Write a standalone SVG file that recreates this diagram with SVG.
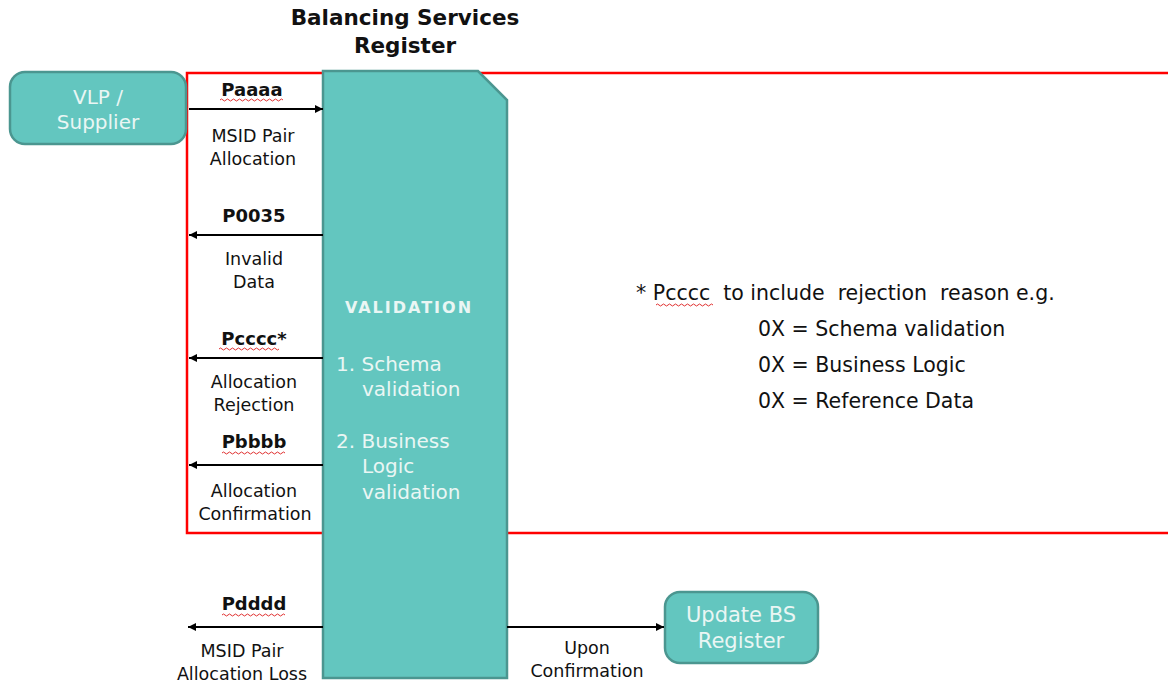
<svg xmlns="http://www.w3.org/2000/svg" width="1168" height="683" viewBox="0 0 1168 683">
<defs>
<marker id="ah" viewBox="0 0 10 10" refX="10" refY="5" markerWidth="10" markerHeight="8" markerUnits="userSpaceOnUse" orient="auto">
<path d="M0,0 L10,5 L0,10 z" fill="#000"/>
</marker>
</defs>
<style>
.t{font-family:"DejaVu Sans",Verdana,sans-serif;fill:#111;}
.lbl{font-size:17.5px;text-anchor:middle;}
.code{font-size:18px;font-weight:bold;text-anchor:middle;}
.w{fill:#EAF6F4;font-family:"DejaVu Sans",Verdana,sans-serif;}
.node{fill:#63C6BF;stroke:#4B9690;stroke-width:2.5;}
.conn{stroke:#000;stroke-width:2;fill:none;marker-end:url(#ah);}
.sq{stroke:#E03030;stroke-width:1;fill:none;}
</style>
<rect width="1168" height="683" fill="#fff"/>
<g id="region">
<rect x="187" y="73" width="990" height="460" fill="none" stroke="#FF0000" stroke-width="2.5"/>
</g>
<g id="bsr">
<path class="node" d="M323,71 L478,71 L507,100 L507,678 L323,678 Z"/>
<text class="t" x="405" y="25" font-size="21.5" font-weight="bold" text-anchor="middle">Balancing Services</text>
<text class="t" x="405" y="53" font-size="21.5" font-weight="bold" text-anchor="middle">Register</text>
<text class="w" x="409" y="313" font-size="16" font-weight="bold" letter-spacing="2" text-anchor="middle">VALIDATION</text>
<text class="w" x="336" y="371" font-size="20">1. Schema</text>
<text class="w" x="362" y="396" font-size="20">validation</text>
<text class="w" x="336" y="448" font-size="20">2. Business</text>
<text class="w" x="362" y="473" font-size="20">Logic</text>
<text class="w" x="362" y="499" font-size="20">validation</text>
</g>
<g id="vlp">
<rect class="node" x="10" y="72" width="176" height="72" rx="15"/>
<text class="w" x="98" y="104" font-size="20" text-anchor="middle">VLP /</text>
<text class="w" x="98" y="129" font-size="20" text-anchor="middle">Supplier</text>
</g>
<g id="update">
<rect class="node" x="665" y="592" width="153" height="71" rx="15"/>
<text class="w" x="741" y="622" font-size="21" text-anchor="middle">Update BS</text>
<text class="w" x="741" y="648" font-size="21" text-anchor="middle">Register</text>
</g>
<g id="connectors">
<line class="conn" x1="189" y1="109" x2="323" y2="109"/>
<line class="conn" x1="323" y1="235" x2="189" y2="235"/>
<line class="conn" x1="323" y1="358" x2="189" y2="358"/>
<line class="conn" x1="323" y1="465" x2="189" y2="465"/>
<line class="conn" x1="323" y1="627" x2="188" y2="627"/>
<line class="conn" x1="507" y1="627" x2="664" y2="627"/>
</g>
<g id="labels">
<text class="t code" x="252" y="96">Paaaa</text>
<text class="t lbl" x="253" y="142">MSID Pair</text>
<text class="t lbl" x="253" y="165">Allocation</text>
<text class="t code" x="254" y="222">P0035</text>
<text class="t lbl" x="254" y="265">Invalid</text>
<text class="t lbl" x="254" y="288">Data</text>
<text class="t code" x="254" y="345">Pcccc*</text>
<text class="t lbl" x="254" y="388">Allocation</text>
<text class="t lbl" x="254" y="411">Rejection</text>
<text class="t code" x="254" y="448">Pbbbb</text>
<text class="t lbl" x="254" y="497">Allocation</text>
<text class="t lbl" x="255" y="520">Confirmation</text>
<text class="t code" x="254" y="610">Pdddd</text>
<text class="t lbl" x="242" y="657">MSID Pair</text>
<text class="t lbl" x="242" y="680">Allocation Loss</text>
<text class="t lbl" x="587" y="654">Upon</text>
<text class="t lbl" x="587" y="677">Confirmation</text>
</g>
<g id="note">
<text class="t" x="636" y="300" font-size="20.5" xml:space="preserve">* Pcccc  to include  rejection  reason e.g.</text>
<text class="t" x="758" y="336" font-size="20.5">0X = Schema validation</text>
<text class="t" x="758" y="372" font-size="20.5">0X = Business Logic</text>
<text class="t" x="758" y="408" font-size="20.5">0X = Reference Data</text>
</g>
<g id="squiggles">
<path class="sq" d="M220,100 q1.5,-2 3,0 t3,0 t3,0 t3,0 t3,0 t3,0 t3,0 t3,0 t3,0 t3,0 t3,0 t3,0 t3,0 t3,0 t3,0 t3,0 t3,0 t3,0 t3,0 t3,0 t3,0"/>
<path class="sq" d="M219,349 q1.5,-2 3,0 t3,0 t3,0 t3,0 t3,0 t3,0 t3,0 t3,0 t3,0 t3,0 t3,0 t3,0 t3,0 t3,0 t3,0 t3,0 t3,0 t3,0 t3,0 t3,0"/>
<path class="sq" d="M222,453 q1.5,-2 3,0 t3,0 t3,0 t3,0 t3,0 t3,0 t3,0 t3,0 t3,0 t3,0 t3,0 t3,0 t3,0 t3,0 t3,0 t3,0 t3,0 t3,0 t3,0 t3,0 t3,0"/>
<path class="sq" d="M222,615 q1.5,-2 3,0 t3,0 t3,0 t3,0 t3,0 t3,0 t3,0 t3,0 t3,0 t3,0 t3,0 t3,0 t3,0 t3,0 t3,0 t3,0 t3,0 t3,0 t3,0 t3,0 t3,0"/>
<path class="sq" d="M656,305 q1.5,-2 3,0 t3,0 t3,0 t3,0 t3,0 t3,0 t3,0 t3,0 t3,0 t3,0 t3,0 t3,0 t3,0 t3,0 t3,0 t3,0 t3,0 t3,0 t3,0"/>
</g>
</svg>
